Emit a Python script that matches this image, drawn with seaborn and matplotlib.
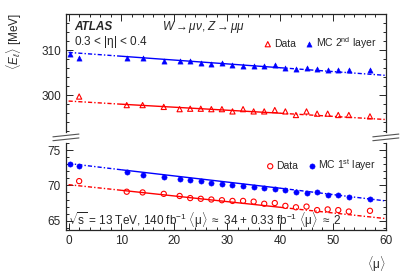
import numpy as np
import pandas as pd
import matplotlib
matplotlib.use("Agg")
import matplotlib.pyplot as plt
import seaborn as sns
from matplotlib.lines import Line2D
from matplotlib.ticker import MultipleLocator

# pile-up values
mu_mc = [0.25, 2, 11, 14, 18, 21, 23, 25, 27, 29, 31, 33, 35, 37, 39, 41, 43, 45, 47, 49, 51, 53, 57]
mu_data = mu_mc[1:]

# 2nd layer, top panel
mc_layer2 = [309.1, 308.3, 308.2, 308.2, 307.7, 307.7, 307.5, 307.1, 307.0, 307.2, 306.6, 306.5,
             306.4, 306.5, 306.6, 306.1, 305.8, 306.1, 305.9, 305.5, 305.6, 305.5, 305.6]
data_layer2 = [299.7, 297.8, 297.8, 297.4, 296.9, 297.0, 297.0, 296.9, 296.9, 296.4, 296.9,
               296.4, 296.4, 296.7, 296.4, 295.6, 296.4, 295.9, 295.9, 295.6, 295.6, 295.3]

# 1st layer, bottom panel
mc_layer1 = [73.0, 72.8, 71.9, 71.5, 71.2, 70.9, 70.8, 70.65, 70.4, 70.2, 70.0, 69.9,
             69.8, 69.6, 69.5, 69.3, 69.1, 68.9, 69.0, 68.7, 68.7, 68.3, 68.1]
data_layer1 = [70.6, 69.1, 69.0, 68.8, 68.5, 68.2, 68.1, 68.0, 67.9, 67.8, 67.8,
               67.7, 67.4, 67.5, 67.1, 66.9, 67.0, 66.5, 66.6, 66.5, 66.3, 66.4]

# linear fits (solid in the 10-40 fit range, dash-dotted outside)
fit_mu = [0, 10, 40, 60]
fit_mc_layer2 = [309.5, 308.65, 306.1, 304.4]
fit_data_layer2 = [298.7, 298.0, 296.0, 294.6]
fit_mc_layer1 = [73.1, 72.2, 69.6, 67.8]
fit_data_layer1 = [70.1, 69.3, 66.9, 65.3]

RED = "#ff0000"
BLUE = "#0000ff"

sns.set_style("ticks")
plt.rcParams["font.family"] = ["Liberation Sans", "DejaVu Sans"]
plt.rcParams["mathtext.fontset"] = "custom"
plt.rcParams["mathtext.rm"] = "Liberation Sans"
plt.rcParams["mathtext.it"] = "Liberation Sans:italic"
plt.rcParams["mathtext.bf"] = "Liberation Sans:bold"

fig = plt.figure(figsize=(4.07, 2.77), dpi=100)
ax_top = fig.add_axes([0.162, 0.523, 0.786, 0.426])
ax_bot = fig.add_axes([0.162, 0.170, 0.786, 0.314])


def draw_fit(ax, vals, color):
    ax.plot(fit_mu[1:3], vals[1:3], color=color, lw=1.0, ls="-")
    ax.plot(fit_mu[0:2], vals[0:2], color=color, lw=1.0, ls=(0, (3, 1.5, 1, 1.5)))
    ax.plot(fit_mu[2:4], vals[2:4], color=color, lw=1.0, ls=(0, (3, 1.5, 1, 1.5)))


def draw_points(ax, mu, vals, marker, color, filled, label):
    df = pd.DataFrame({"mu": mu, "E": vals})
    if filled:
        sns.scatterplot(data=df, x="mu", y="E", ax=ax, marker=marker, s=14,
                        color=color, edgecolor=color, linewidth=0.4, label=label)
    else:
        sns.scatterplot(data=df, x="mu", y="E", ax=ax, marker=marker, s=14,
                        facecolor="none", edgecolor=color, linewidth=0.8, label=label)


draw_fit(ax_top, fit_mc_layer2, BLUE)
draw_fit(ax_top, fit_data_layer2, RED)
draw_points(ax_top, mu_data, data_layer2, "^", RED, False, "Data")
draw_points(ax_top, mu_mc, mc_layer2, "^", BLUE, True, r"MC 2$^{\rm nd}$ layer")

draw_fit(ax_bot, fit_mc_layer1, BLUE)
draw_fit(ax_bot, fit_data_layer1, RED)
draw_points(ax_bot, mu_data, data_layer1, "o", RED, False, "Data")
draw_points(ax_bot, mu_mc, mc_layer1, "o", BLUE, True, r"MC 1$^{\rm st}$ layer")

ax_top.set_xlim(-0.5, 60)
ax_bot.set_xlim(-0.5, 60)
ax_top.set_ylim(291.8, 318)
ax_bot.set_ylim(63.7, 76)

for ax in (ax_top, ax_bot):
    ax.set_xlabel("")
    ax.set_ylabel("")
    for sp in ax.spines.values():
        sp.set_linewidth(0.9)
    ax.xaxis.set_major_locator(MultipleLocator(10))
    ax.xaxis.set_minor_locator(MultipleLocator(2))
    ax.tick_params(which="both", direction="in", labelsize=8.5, width=0.7)
    ax.tick_params(which="major", length=5)
    ax.tick_params(which="minor", length=2.5)

ax_top.yaxis.set_major_locator(MultipleLocator(10))
ax_top.yaxis.set_minor_locator(MultipleLocator(2))
ax_bot.yaxis.set_major_locator(MultipleLocator(5))
ax_bot.yaxis.set_minor_locator(MultipleLocator(1))

ax_top.spines["bottom"].set_visible(False)
ax_top.tick_params(which="both", bottom=False, labelbottom=False, top=True, right=True)
ax_bot.spines["top"].set_visible(False)
ax_bot.tick_params(which="both", top=False, right=True)

leg_kw = dict(ncol=2, frameon=False, fontsize=7.5, handletextpad=0.1, columnspacing=0.8,
              borderaxespad=0, borderpad=0, handlelength=1.0, loc="center right")
ax_top.legend(bbox_to_anchor=(0.97, 0.755), **leg_kw)
ax_bot.legend(bbox_to_anchor=(0.97, 0.745), **leg_kw)

ax_top.text(0.025, 0.895, "ATLAS", transform=ax_top.transAxes, fontsize=8.5,
            fontweight="bold", fontstyle="italic", va="center")
ax_top.text(0.30, 0.89, r"$W \rightarrow \mu\nu$, $Z \rightarrow \mu\mu$",
            transform=ax_top.transAxes, fontsize=8.5, va="center")
ax_top.text(0.025, 0.76, r"0.3 < |$\mathrm{\eta}$| < 0.4", transform=ax_top.transAxes,
            fontsize=8.5, va="center")
ax_bot.text(0.006, 0.115,
            r"$\sqrt{\rm s}$ = 13 TeV, 140 fb$^{-1}$ $\langle\mathrm{\mu}\rangle$ $\approx$ 34"
            r" + 0.33 fb$^{-1}$ $\langle\mathrm{\mu}\rangle$ $\approx$ 2",
            transform=ax_bot.transAxes, fontsize=8.5, va="center")

fig.text(0.035, 0.955, r"$\langle E_{\ell}\rangle$ [MeV]", rotation=90,
         fontsize=8.5, ha="center", va="top")
fig.text(0.948, 0.045, r"$\langle\mathrm{\mu}\rangle$", fontsize=8.5, ha="right", va="center")

# axis-break marks between the panels
for xc in (0.162, 0.948):
    for dy in (-0.006, 0.008):
        fig.add_artist(Line2D([xc - 0.032, xc + 0.032], [0.503 + dy - 0.005, 0.503 + dy + 0.005],
                              transform=fig.transFigure, color="#555555", lw=0.8))

fig.savefig("out.png", dpi=100)
